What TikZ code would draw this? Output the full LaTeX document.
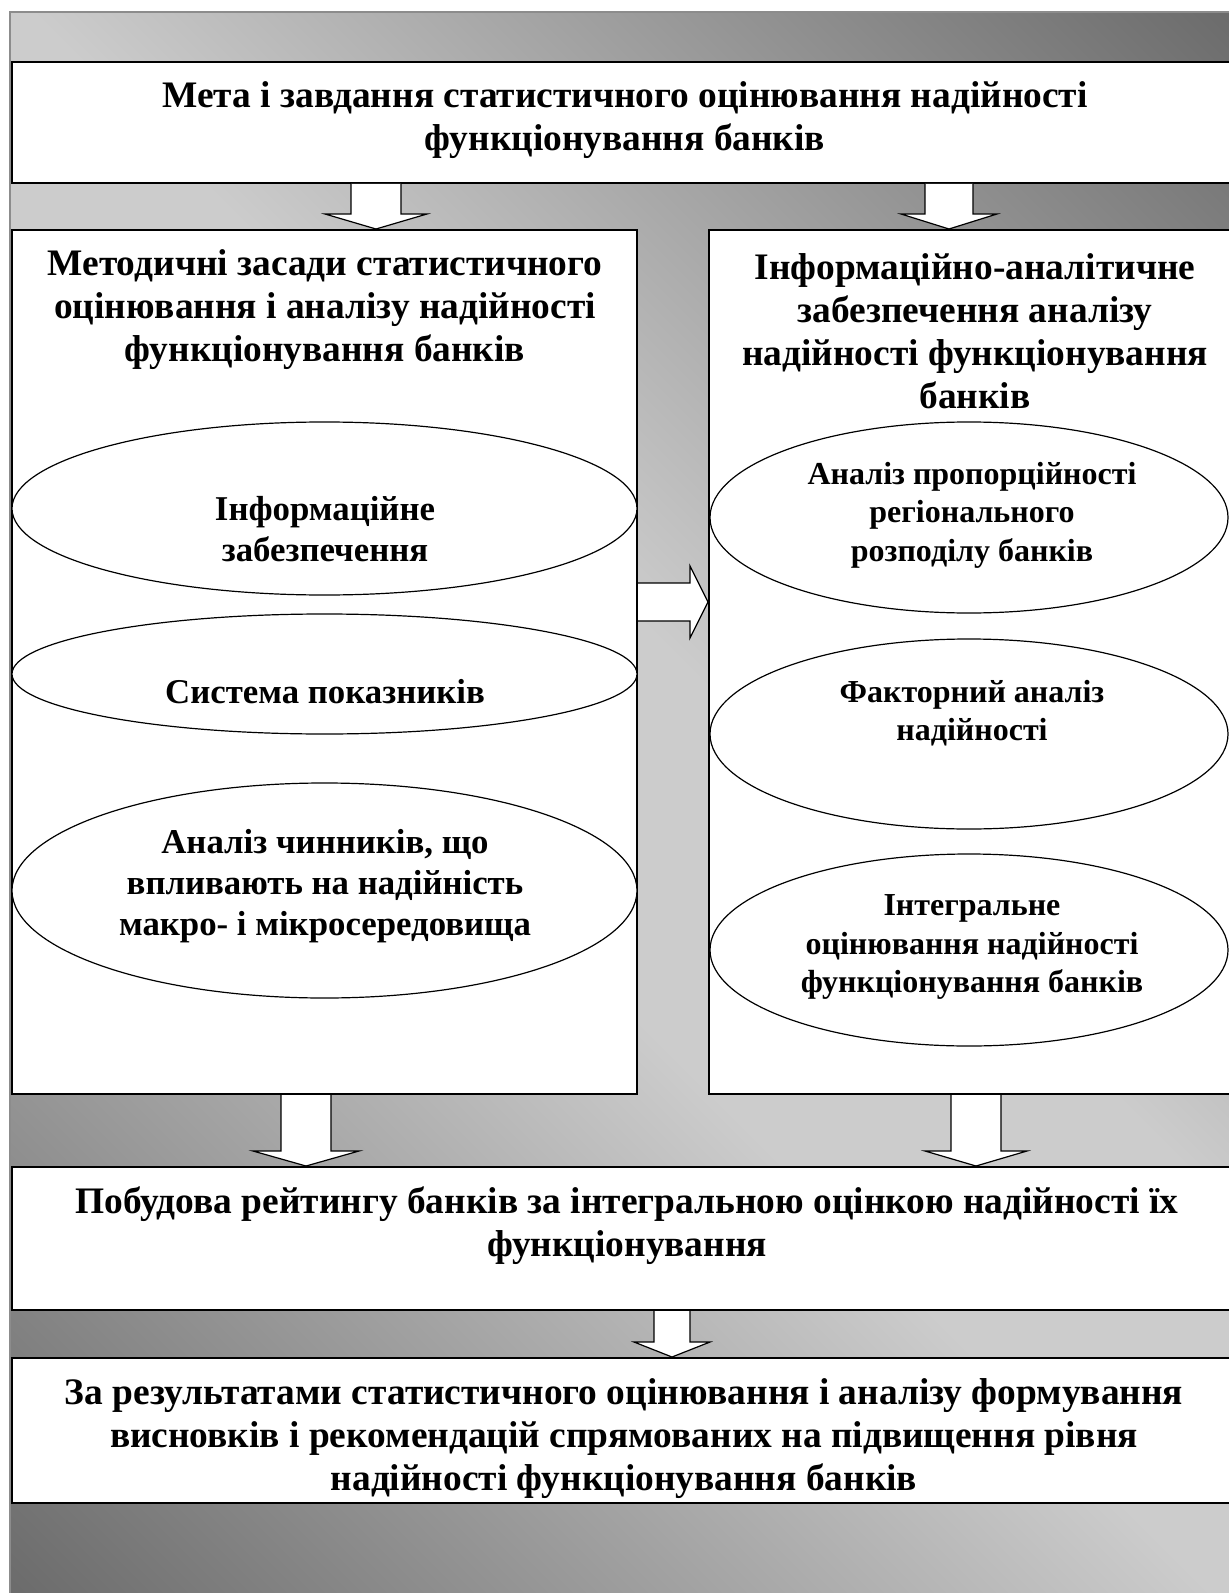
\documentclass[tikz,border=0pt]{standalone}
\usepackage{fontspec}
\setmainfont{Liberation Serif}
\usetikzlibrary{calc}
\usetikzlibrary{shapes.geometric}
\pgfdeclareverticalshading{panelshading}{100bp}{rgb(0bp)=(.42,.42,.42); rgb(14.6bp)=(.42,.42,.42); rgb(45bp)=(.8,.8,.8); rgb(55bp)=(.8,.8,.8); rgb(85.4bp)=(.42,.42,.42); rgb(100bp)=(.42,.42,.42)}
\tikzstyle{panel}=[shade, shading=panelshading, shading angle=-45, draw=black!45, line width=0.75pt]
\tikzstyle{block}=[draw, line width=1pt, fill=white, inner sep=0]
\tikzstyle{oval}=[draw, line width=0.6pt, fill=white, ellipse, inner sep=0]
\tikzstyle{blocktext}=[align=center, inner sep=0, font=\bfseries\fontsize{18.7}{21.5}\selectfont]
\tikzstyle{ovaltext}=[align=center, inner sep=0, font=\bfseries\fontsize{16}{19.25}\selectfont]
\tikzstyle{bigovaltext}=[align=center, inner sep=0, font=\bfseries\fontsize{17.4}{20.5}\selectfont]
\tikzstyle{blockarrow}=[draw, line width=0.6pt, fill=white]
% hollow arrow downwards: x, upper node, lower node, half shaft, half head
\newcommand{\blockdown}[5]{%
  \coordinate (from) at (#2.south -| #1,0);
  \coordinate (to) at (#3.north -| #1,0);
  \draw[blockarrow] ($(from)+(-#4,0)$) -- ($(to)+(-#4,-15)$) -- ($(to)+(-#5,-15)$) -- (to)
    -- ($(to)+(#5,-15)$) -- ($(to)+(#4,-15)$) -- ($(from)+(#4,0)$);}
% hollow arrow to the right: y, left node, right node, half shaft, half head
\newcommand{\blockright}[5]{%
  \coordinate (from) at (#2.east |- 0,#1);
  \coordinate (to) at (#3.west |- 0,#1);
  \draw[blockarrow] ($(from)+(0,-#4)$) -- ($(to)+(-18,-#4)$) -- ($(to)+(-18,-#5)$) -- (to)
    -- ($(to)+(-18,#5)$) -- ($(to)+(-18,#4)$) -- ($(from)+(0,#4)$);}
\begin{document}
\begin{tikzpicture}[x=0.5pt, y=-0.5pt]
        \useasboundingbox (0,0) rectangle (1229,1593);
        \clip (0,0) rectangle (1229,1593);
        \path[panel] (10,12) rectangle (1240,1600);
        \node[block, minimum width=613pt, minimum height=60.5pt]   (goal)        at (625, 122.5) {};
        \node[block, minimum width=312.5pt, minimum height=432pt]  (methods)     at (324.5, 662) {};
        \node[block, minimum width=266pt, minimum height=432pt]    (info)        at (975, 662) {};
        \node[block, minimum width=613pt, minimum height=71.5pt]   (rating)      at (625, 1238.5) {};
        \node[block, minimum width=613pt, minimum height=72.5pt]   (conclusions) at (625, 1430.5) {};
        \node[oval, minimum width=312.5pt, minimum height=86.5pt]  (infosupply)     at (324.5, 508.5) {};
        \node[oval, minimum width=312.5pt, minimum height=60pt]    (indicators)     at (324.5, 674) {};
        \node[oval, minimum width=312.5pt, minimum height=107.5pt] (factors)        at (324.5, 890.5) {};
        \node[oval, minimum width=259pt, minimum height=95.5pt]    (proportion)     at (969, 517.5) {};
        \node[oval, minimum width=259pt, minimum height=95pt]      (factoranalysis) at (969, 734) {};
        \node[oval, minimum width=259pt, minimum height=96pt]      (integral)       at (969, 950) {};
        \node[blocktext] (goaltext)        at (625, 120) {Мета і завдання статистичного оцінювання надійності\\функціонування банків};
        \node[blocktext] (methodstext)     at (325, 310) {Методичні засади статистичного\\оцінювання і аналізу надійності\\функціонування банків};
        \node[blocktext] (infotext)        at (975, 331) {Інформаційно-аналітичне\\забезпечення аналізу\\надійності функціонування\\банків};
        \node[blocktext] (ratingtext)      at (627, 1226) {Побудова рейтингу банків за інтегральною оцінкою надійності їх\\функціонування};
        \node[blocktext] (conclusionstext) at (624, 1439) {За результатами статистичного оцінювання і аналізу формування\\висновків і рекомендацій спрямованих на підвищення рівня\\надійності функціонування банків};
        \node[bigovaltext] (infosupplytext)  at (325, 529) {Інформаційне\\забезпечення};
        \node[bigovaltext] (indicatorstext)  at (325, 692) {Система показників};
        \node[bigovaltext] (factorstext)     at (325, 886) {Аналіз чинників, що\\впливають на надійність\\макро- і мікросередовища};
        \node[ovaltext] (proportiontext)     at (972, 515) {Аналіз пропорційності\\регіонального\\розподілу банків};
        \node[ovaltext] (factoranalysistext) at (972, 713) {Факторний аналіз\\надійності};
        \node[ovaltext] (integraltext)       at (972, 947) {Інтегральне\\оцінювання надійності\\функціонування банків};
        \blockdown{376}{goal}{methods}{25}{51}
        \blockdown{949}{goal}{info}{24}{48}
        \blockdown{306}{methods}{rating}{25}{53}
        \blockdown{976}{info}{rating}{25}{51}
        \blockdown{672}{rating}{conclusions}{18}{38}
        \blockright{602}{methods}{info}{19}{36}
    \end{tikzpicture}
\end{document}
